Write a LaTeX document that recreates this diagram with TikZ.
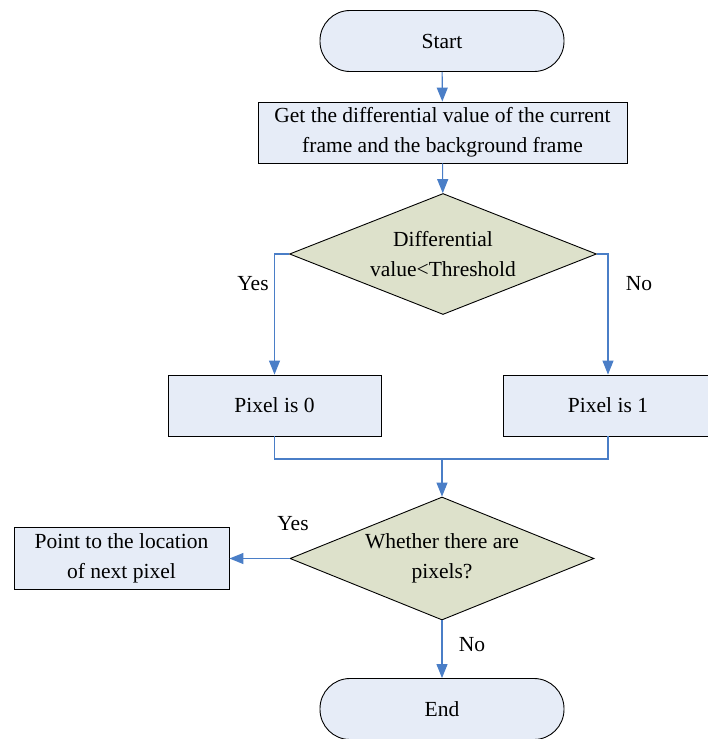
\documentclass[tikz,border=0pt]{standalone}
\usepackage{fontspec}
\setmainfont{Liberation Serif}
\usetikzlibrary{shapes.geometric,arrows.meta}
\definecolor{boxfill}{RGB}{230,236,247}
\definecolor{decfill}{RGB}{221,225,203}
\definecolor{linkc}{RGB}{74,126,199}
\tikzset{
  every node/.style={font=\fontsize{21.5}{30}\selectfont},
  term/.style={draw=black, line width=0.9pt, fill=boxfill, rounded corners=30pt, minimum width=244pt, minimum height=61pt, inner sep=0pt},
  procbox/.style={draw=black, line width=0.9pt, fill=boxfill, minimum height=61pt, inner sep=0pt, align=center},
  decision/.style={draw=black, line width=0.9pt, fill=decfill, diamond, aspect=2.5, inner sep=0pt, align=center},
  link/.style={draw=linkc, line width=1.1pt},
  arr/.style={link, -{Triangle[length=14pt,width=11pt]}},
  lbl/.style={inner sep=0pt}
}
\begin{document}
\begin{tikzpicture}[x=1pt,y=-1pt]
\useasboundingbox (0,0) rectangle (707,739);
\node[term] (start) at (442,41) {Start};
\node[procbox, minimum width=369pt] (diff) at (442.5,132.5) {Get the differential value of the current\\frame and the background frame};
\node[decision, minimum width=307pt, minimum height=121pt] (d1) at (443,254) {Differential\\value<Threshold};
\node[procbox, minimum width=213pt] (p0) at (274.5,405.5) {Pixel is 0};
\node[procbox, minimum width=210pt] (p1) at (608,405.5) {Pixel is 1};
\coordinate (merge) at (442,459);
\node[decision, minimum width=304pt, minimum height=123pt] (d2) at (442,558.5) {Whether there are\\pixels?};
\node[procbox, minimum width=215pt, minimum height=62pt] (next) at (121.5,558.5) {Point to the location\\of next pixel};
\node[term] (end) at (442,709) {End};
\node[lbl] (yes1) at (253,284) {Yes};
\node[lbl] (no1) at (639,284) {No};
\node[lbl] (yes2) at (293,524) {Yes};
\node[lbl] (no2) at (472,645) {No};
\draw[arr] (start) -- (diff);
\draw[arr] (diff) -- (d1);
\draw[arr] (d1.west) -| (p0.north);
\draw[arr] (d1.east) -| (p1.north);
\draw[link] (p0.south) |- (merge) -| (p1.south);
\draw[arr] (merge) -- (d2.north);
\draw[arr] (d2.west) -- (next.east);
\draw[arr] (d2.south) -- (end.north);
\end{tikzpicture}
\end{document}
